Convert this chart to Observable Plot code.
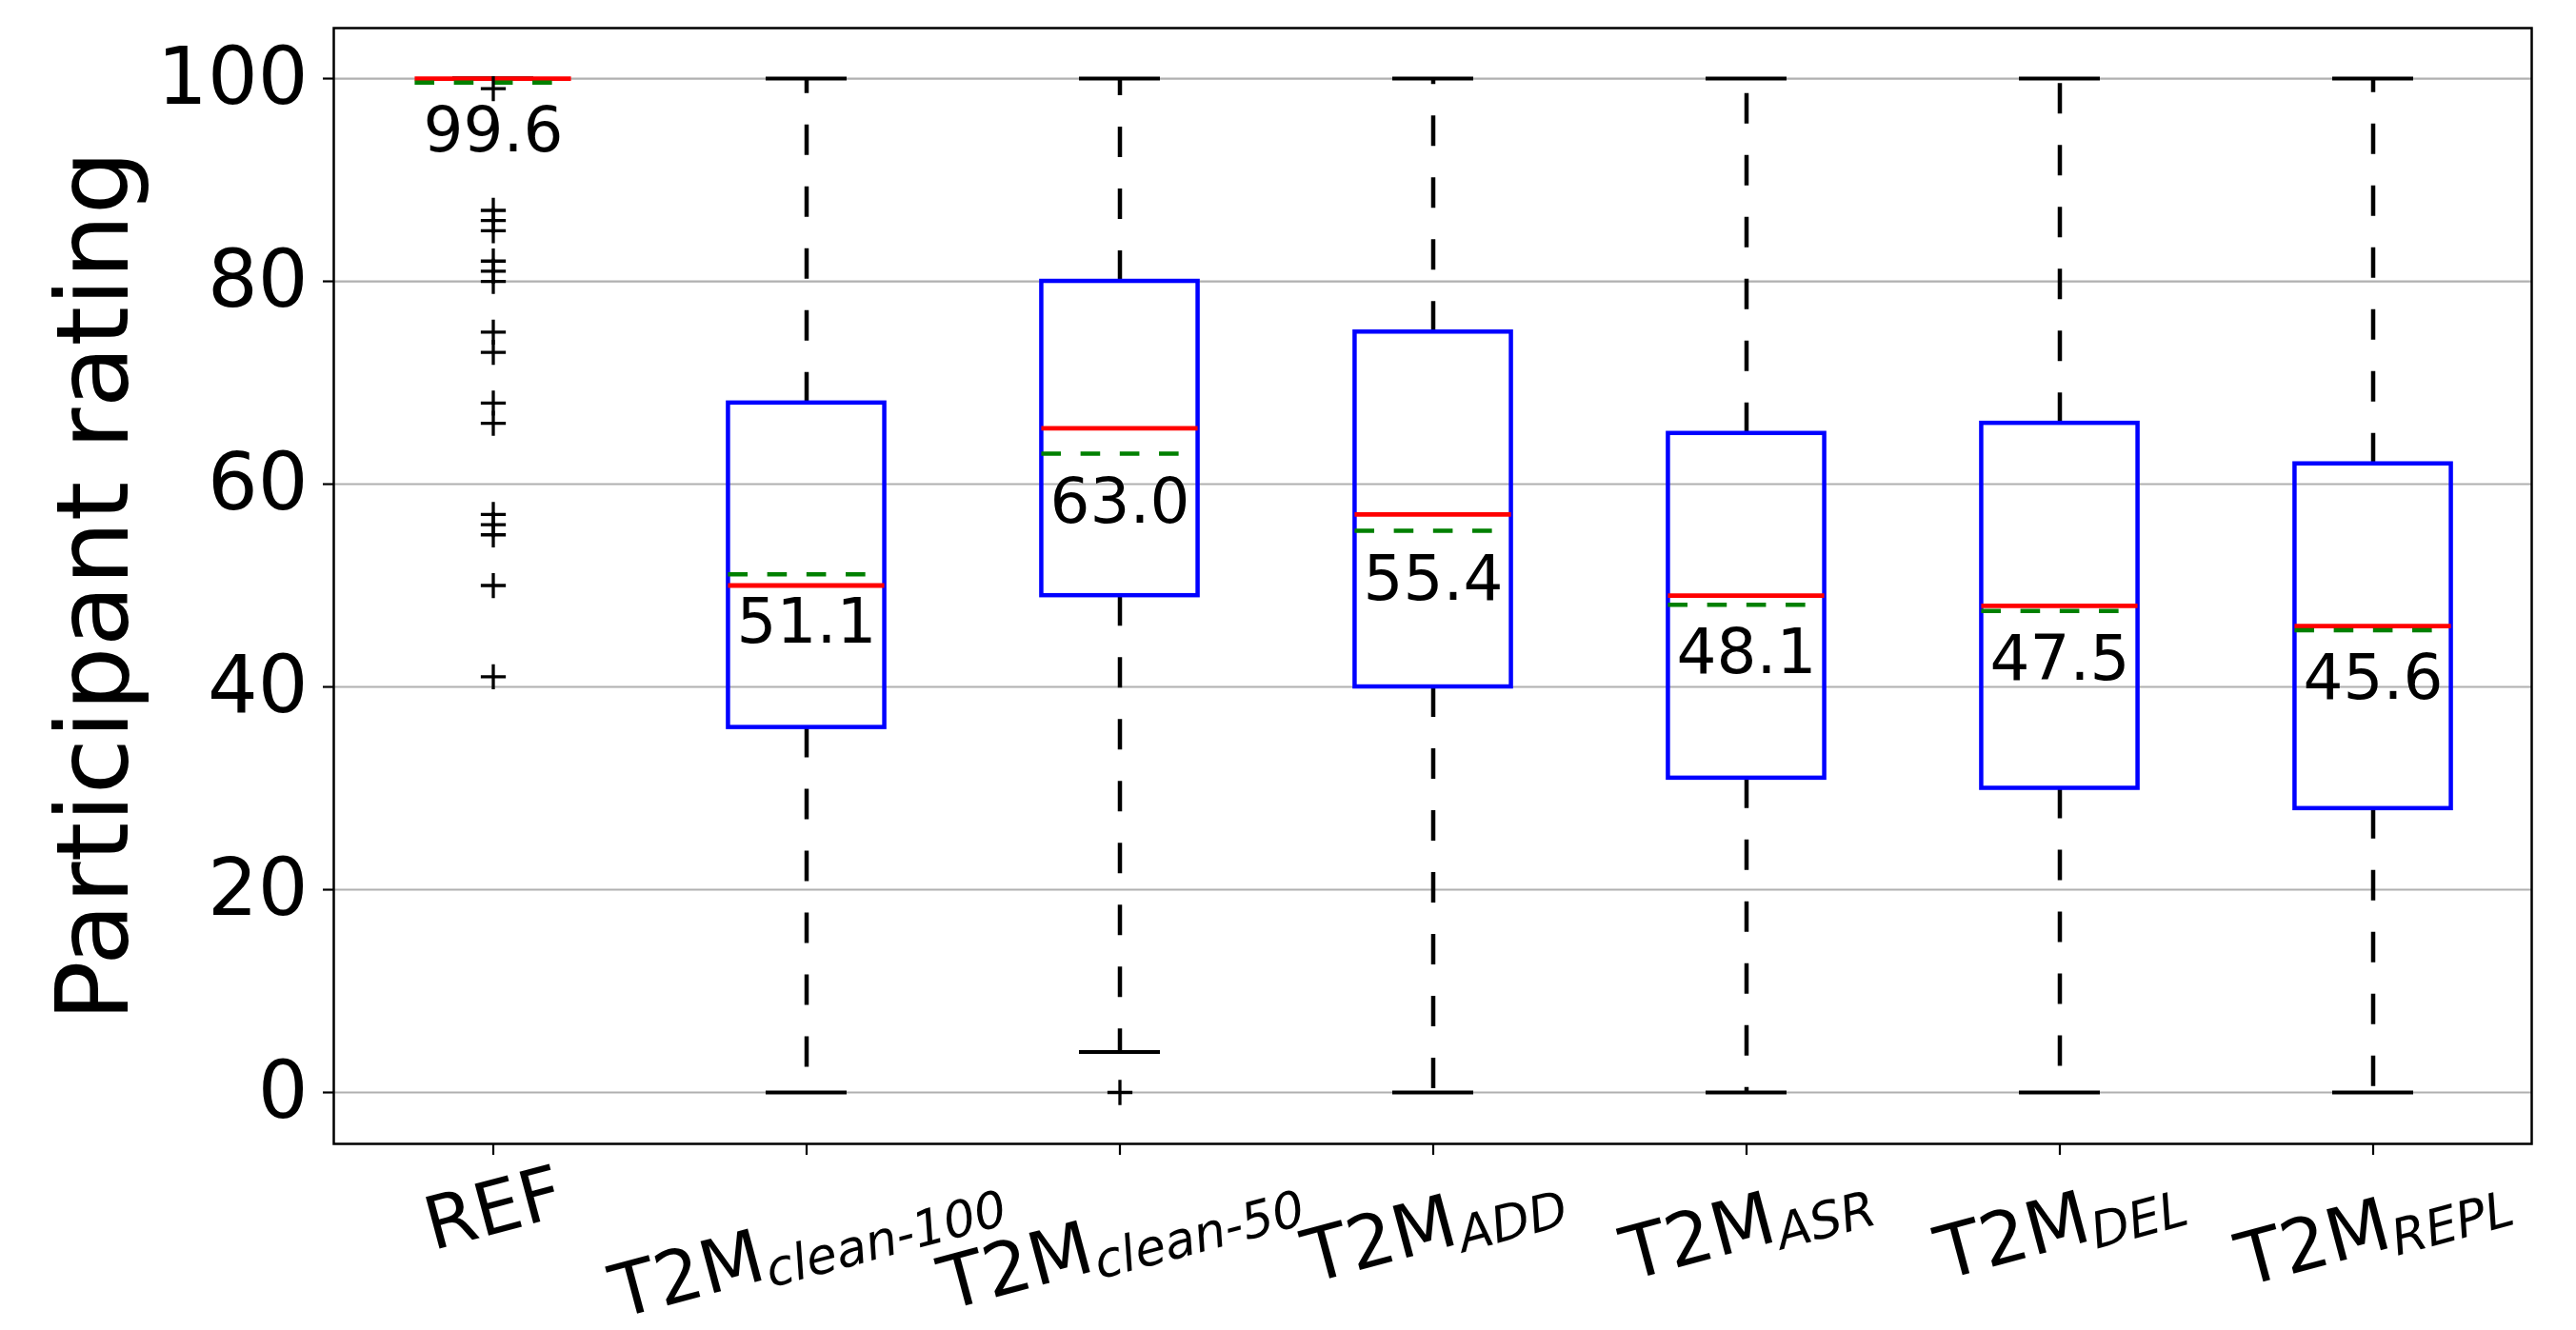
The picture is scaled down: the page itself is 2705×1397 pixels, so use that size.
<!DOCTYPE html>
<html><head><meta charset="utf-8">
<script src="https://cdn.jsdelivr.net/npm/d3@7"></script>
<script src="https://cdn.jsdelivr.net/npm/@observablehq/plot@0.6"></script>
<style>
html,body{margin:0;padding:0;background:#fff;}
svg{font-family:"DejaVu Sans",sans-serif;}
</style></head><body><div id="chart"></div>
<script>
// ---- data ----
const categories = ["REF", "T2M clean-100", "T2M clean-50", "T2M ADD", "T2M ASR", "T2M DEL", "T2M REPL"];
const tickBase = ["REF", "T2M", "T2M", "T2M", "T2M", "T2M", "T2M"];
const tickSub = ["", "clean-100", "clean-50", "ADD", "ASR", "DEL", "REPL"];
const whiskerLow = [100, 0, 4, 0, 0, 0, 0];
const q1 = [100, 36, 49, 40, 31, 30, 28];
const median = [100, 50, 65.5, 57, 49, 48, 46];
const q3 = [100, 68, 80, 75, 65, 66, 62];
const whiskerHigh = [100, 100, 100, 100, 100, 100, 100];
const means = [99.6, 51.1, 63.0, 55.4, 48.1, 47.5, 45.6];
const outlierCategory = ["REF","REF","REF","REF","REF","REF","REF","REF","REF","REF","REF","REF","REF","REF","REF","REF","T2M clean-50"];
const outlierValue = [99, 87, 86, 85, 82, 81, 80, 75, 73, 68, 66, 57, 56, 55, 50, 41, 0];
const yTicks = [0, 20, 40, 60, 80, 100];
const yLabel = "Participant rating";

const boxes = categories.map((c, i) => ({cat: c, lo: whiskerLow[i], q1: q1[i], median: median[i], q3: q3[i], hi: whiskerHigh[i], mean: means[i]}));
const outliers = outlierCategory.map((c, i) => ({cat: c, value: outlierValue[i]}));

const W = 2705, H = 1397, ML = 350, MR = 47, MT = 29, MB = 196;
const band = (W - ML - MR) / categories.length;
const boxInset = band * 0.25;
const capInset = band * 0.37;
const TICK_FS = 77;

const chart = Plot.plot({
  width: W, height: H,
  marginLeft: ML, marginRight: MR, marginTop: MT, marginBottom: MB,
  style: {fontFamily: "DejaVu Sans", background: "white", color: "black", overflow: "visible"},
  x: {type: "band", domain: categories, padding: 0, label: null},
  y: {domain: [-5.07, 104.98], label: null},
  marks: [
    Plot.gridY(yTicks, {stroke: "#b0b0b0", strokeOpacity: 1, strokeWidth: 2.2}),
    Plot.ruleX(boxes, {x: "cat", y1: "q3", y2: "hi", stroke: "black", strokeWidth: 4.5, strokeDasharray: "32,33"}),
    Plot.ruleX(boxes, {x: "cat", y1: "q1", y2: "lo", stroke: "black", strokeWidth: 4.5, strokeDasharray: "32,33"}),
    Plot.tickY(boxes, {x: "cat", y: "lo", insetLeft: capInset, insetRight: capInset, stroke: "black", strokeWidth: 4}),
    Plot.tickY(boxes, {x: "cat", y: "hi", insetLeft: capInset, insetRight: capInset, stroke: "black", strokeWidth: 4}),
    Plot.rectY(boxes, {x: "cat", y1: "q1", y2: "q3", insetLeft: boxInset, insetRight: boxInset, fill: "none", stroke: "blue", strokeWidth: 4.5}),
    Plot.tickY(boxes, {x: "cat", y: "median", insetLeft: boxInset, insetRight: boxInset, stroke: "red", strokeWidth: 4.8}),
    Plot.tickY(boxes, {x: "cat", y: "mean", insetLeft: boxInset, insetRight: boxInset, stroke: "green", strokeWidth: 4.5, strokeDasharray: "20.6,20.6"}),
    Plot.dot(outliers, {x: "cat", y: "value", symbol: "plus", r: 8.5, stroke: "black", strokeWidth: 3.3}),
    Plot.text(boxes, {x: "cat", y: "mean", text: d => d.mean.toFixed(1), fontSize: 66, lineAnchor: "middle", dy: 51, fill: "black"}),
    Plot.frame({stroke: "black", strokeWidth: 2.5}),
    Plot.axisY(yTicks, {tickSize: 11, tickPadding: 16, fontSize: 83, label: null, strokeWidth: 2.2}),
    Plot.axisX({tickSize: 12, tickPadding: 10, fontSize: TICK_FS, label: null, strokeWidth: 2.2, tickFormat: d => d}),
    Plot.text([yLabel], {frameAnchor: "left", rotate: -90, textAnchor: "middle", lineAnchor: "bottom", dx: 133 - ML, fontSize: 106, fill: "black"})
  ]
});
document.getElementById("chart").append(chart);

// ---- rich x tick labels (T2M with italic subscript), rotated 15° like the reference ----
const NS = "http://www.w3.org/2000/svg";
const rad = 15 * Math.PI / 180;
const parseT = s => {
  const m = /translate\(\s*([-\d.e]+)[\s,]+([-\d.e]+)\s*\)/.exec(s || "");
  return m ? [+m[1], +m[2]] : [0, 0];
};
const labelGroup = chart.querySelector('g[aria-label="x-axis tick label"]');
if (labelGroup) {
  const [gx] = parseT(labelGroup.getAttribute("transform"));
  labelGroup.removeAttribute("transform");
  labelGroup.querySelectorAll("text").forEach(t => {
    const key = t.textContent;
    const i = categories.indexOf(key);
    if (i < 0) return;
    const [tx] = parseT(t.getAttribute("transform"));
    const X = tx + gx;
    t.textContent = "";
    t.removeAttribute("y"); t.removeAttribute("dy"); t.removeAttribute("x");
    t.setAttribute("text-anchor", "start");
    t.setAttribute("font-size", TICK_FS);
    const a = document.createElementNS(NS, "tspan");
    a.textContent = tickBase[i];
    t.append(a);
    if (tickSub[i]) {
      const b = document.createElementNS(NS, "tspan");
      b.textContent = tickSub[i];
      b.setAttribute("font-size", TICK_FS * 0.68);
      b.setAttribute("font-style", "italic");
      b.setAttribute("dy", 10);
      t.append(b);
    }
    const bb = t.getBBox();
    const cx = bb.x + bb.width / 2, cy = bb.y + bb.height / 2;
    const hh = (bb.width * Math.sin(rad) + bb.height * Math.cos(rad)) / 2;
    const top = H - MB + 6;
    t.setAttribute("transform", `translate(${X},${top + hh}) rotate(-15) translate(${-cx},${-cy})`);
  });
}
</script></body></html>
